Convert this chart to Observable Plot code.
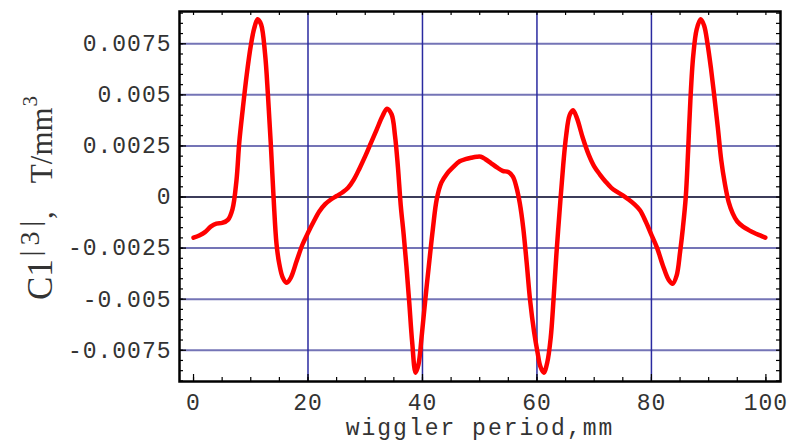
<!DOCTYPE html>
<html><head><meta charset="utf-8">
<script src="https://cdn.jsdelivr.net/npm/d3@7"></script>
<script src="https://cdn.jsdelivr.net/npm/@observablehq/plot@0.6"></script>
<style>body{margin:0;background:#fff}</style>
</head><body><div id="chart"></div>
<script>
// wiggler period (mm)
const period = [0,1,2,3,4,5,6,6.8,7.5,8,8.6,9.3,10,10.6,11.2,11.8,12.5,13,13.5,14,14.5,15,15.6,16.3,17,18,19,20,21,22,23,24,25,26,27,28,29,30,31,32,33,33.8,34.6,35.2,35.7,36.2,36.7,37.2,37.7,38.2,38.8,39.3,39.9,40.5,41.1,41.8,42.5,43.3,44.3,45.3,46.5,47.5,48.5,49.5,50.2,51,52,53,54,55,55.8,56.4,57,57.6,58.2,58.8,59.5,60.1,60.6,61.2,61.8,62.4,62.9,63.4,64.1,64.6,65.1,65.7,66.3,67,68,69,70,71,72,73,74,75,76,77,78,79,80,81,82,83,83.7,84.4,85,85.5,86,86.4,86.8,87.3,87.9,88.6,89.2,89.8,90.4,91,91.6,92.2,92.8,93.5,94.2,95,96,97,98,99,99.9];
// C1|3| in units of 1e-3 T/mm^3
const c13milli = [-1.99,-1.88,-1.72,-1.45,-1.3,-1.27,-1.12,-0.6,0.8,2.7,4.3,6.0,7.4,8.25,8.7,8.45,7.0,5.0,2.6,-0.1,-2.3,-3.3,-3.95,-4.2,-3.95,-3.15,-2.35,-1.75,-1.2,-0.7,-0.35,-0.12,0.05,0.22,0.45,0.85,1.4,2.0,2.65,3.3,3.95,4.32,4.05,3.0,1.5,-0.4,-1.8,-3.4,-5.2,-7.1,-8.6,-8.2,-6.7,-5.0,-3.4,-1.6,-0.1,0.7,1.15,1.45,1.75,1.85,1.92,1.97,1.97,1.85,1.65,1.45,1.28,1.22,1.0,0.5,-0.3,-1.5,-3.2,-5.05,-6.6,-7.6,-8.3,-8.6,-8.1,-6.9,-5.0,-2.8,-0.15,1.6,3.0,4.0,4.25,3.85,2.9,2.1,1.5,1.1,0.75,0.45,0.25,0.08,-0.12,-0.35,-0.65,-1.2,-1.85,-2.5,-3.35,-4.05,-4.25,-3.85,-2.7,-1.5,0.0,2.2,4.7,6.9,8.2,8.7,8.4,7.5,6.3,4.9,3.4,1.8,0.7,-0.25,-0.8,-1.2,-1.45,-1.62,-1.76,-1.88,-1.99];

const xTickValues = [0,20,40,60,80,100];
const xGridValues = [20,40,60,80];
const yTickValues = [-0.0075,-0.005,-0.0025,0,0.0025,0.005,0.0075];
const yTickLabels = ["-0.0075","-0.005","-0.0025","0","0.0025","0.005","0.0075"];
const yGridValues = [-0.0075,-0.005,-0.0025,0.0025,0.005,0.0075];
const xMinorTicks = d3.range(0, 101, 5);
const yMinorTicks = d3.range(-18, 19).map(k => k * 0.0005);
const xLabel = "wiggler period,mm";
const yLabelParts = ["C1", "|3|", ",", "T/mm", "3"];

const data = period.map((p, i) => ({p, c: c13milli[i] / 1000}));
const W = 791, H = 444, mL = 179, mR = 11, mT = 11, mB = 63;
const innerW = W - mL - mR, innerH = H - mT - mB;
const mono = "'Liberation Mono', monospace";

const plot = Plot.plot({
  width: W, height: H,
  marginLeft: mL, marginRight: mR, marginTop: mT, marginBottom: mB,
  x: {domain: [-2.45, 102.55]},
  y: {domain: [-0.00903, 0.00908]},
  style: {fontFamily: mono, fontSize: "23px", color: "#333", background: "#fff"},
  marks: [
    Plot.ruleY(yGridValues, {stroke: "#7474b6", strokeWidth: 2}),
    Plot.ruleX(xGridValues, {stroke: "#2a2aa0", strokeWidth: 1.5}),
    Plot.ruleY([0], {stroke: "#3c3c5a", strokeWidth: 2}),
    Plot.line(data, {x: "p", y: "c", stroke: "#ff0000", strokeWidth: 4.5, curve: "catmull-rom"}),
    // inward ticks
    Plot.tickX(xMinorTicks, {x: d => d, stroke: "#000", strokeWidth: 1.2, insetTop: innerH - 4}),
    Plot.tickX(xMinorTicks, {x: d => d, stroke: "#000", strokeWidth: 1.2, insetBottom: innerH - 4}),
    Plot.tickY(yMinorTicks, {y: d => d, stroke: "#000", strokeWidth: 1.2, insetRight: innerW - 4}),
    Plot.tickY(yMinorTicks, {y: d => d, stroke: "#000", strokeWidth: 1.2, insetLeft: innerW - 4}),
    Plot.tickY(yTickValues, {y: d => d, stroke: "#000", strokeWidth: 1.2, insetRight: innerW - 7}),
    Plot.tickX(xTickValues, {x: d => d, stroke: "#000", strokeWidth: 1.2, insetTop: innerH - 7}),
    Plot.frame({stroke: "#000", strokeWidth: 2.5}),
    Plot.axisX(xTickValues, {tickSize: 0, tickPadding: 12, fontSize: 23, fill: "#333", label: null}),
    Plot.axisY(yTickValues, {tickSize: 0, tickPadding: 8, fontSize: 23, fill: "#333", label: null,
      tickFormat: d => yTickLabels[yTickValues.indexOf(d)]}),
    Plot.text([xLabel], {text: d => d, frameAnchor: "bottom", dy: 53, fontSize: 23, fill: "#333"})
  ]
});

document.getElementById("chart").appendChild(plot);

// letter spacing similar to the reference's wide monospaced face
d3.select(plot).selectAll("g[aria-label='x-axis tick label'] text, g[aria-label='y-axis tick label'] text")
  .style("letter-spacing", "1px");
d3.select(plot).selectAll("g[aria-label='text'] text").style("letter-spacing", "2px");

// y-axis label with raised parts
const t = d3.select(plot).append("text")
  .attr("transform", "translate(52,300) rotate(-90)")
  .attr("text-anchor", "start")
  .attr("font-family", "'Liberation Serif', serif")
  .attr("fill", "#333")
  .attr("font-size", 35);
t.append("tspan").text(yLabelParts[0]);
t.append("tspan").attr("dx", 3).attr("dy", -13).attr("font-size", 28)
  .style("letter-spacing", "5px").text(yLabelParts[1]);
t.append("tspan").attr("dx", -3).attr("dy", 13).attr("font-size", 31).text(yLabelParts[2]);
t.append("tspan").attr("dx", 28).attr("font-size", 31).text(yLabelParts[3]);
t.append("tspan").attr("dx", 1).attr("dy", -15).attr("font-size", 21).text(yLabelParts[4]);
</script>
</body></html>
